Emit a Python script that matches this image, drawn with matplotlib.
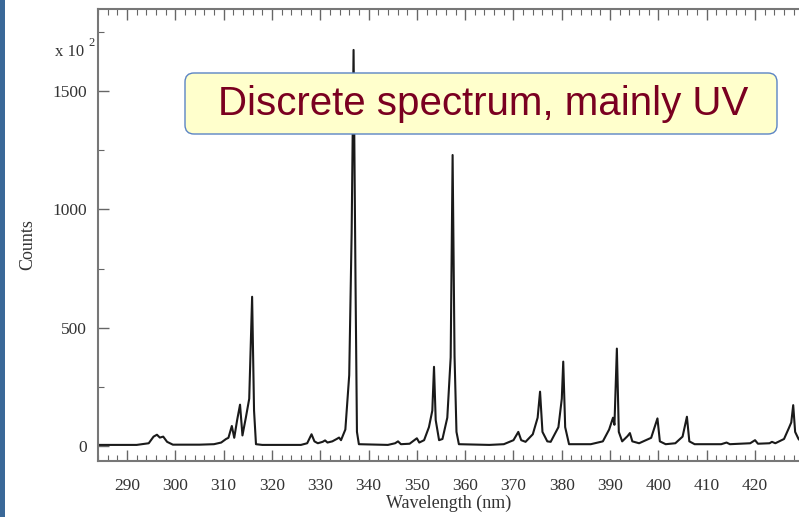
import matplotlib.pyplot as plt
from matplotlib.patches import FancyBboxPatch, Rectangle
from matplotlib.ticker import MultipleLocator

# spectrum trace: wavelength (nm) and counts
wavelength = [284.0, 292.0, 294.5, 295.5, 296.2, 296.8, 297.5, 298.3, 299.5, 305.0,
              308.0, 309.5, 310.5, 311.0, 311.7, 312.2, 312.8, 313.4, 313.9, 314.6,
              315.3, 315.9, 316.3, 316.7, 318.0, 326.0, 327.3, 328.2, 328.8, 329.5,
              330.5, 331.0, 331.5, 332.5, 333.4, 333.9, 334.3, 335.2, 336.0, 336.5,
              336.9, 337.3, 337.6, 338.0, 344.0, 345.5, 346.1, 346.7, 348.5, 350.0,
              350.5, 351.5, 352.5, 353.2, 353.55, 353.9, 354.6, 355.3, 356.3, 357.0,
              357.4, 357.8, 358.2, 358.7, 365.0, 368.0, 370.0, 371.0, 371.6, 372.5,
              374.0, 375.0, 375.5, 376.0, 377.0, 377.7, 379.3, 380.0, 380.3, 380.7,
              381.5, 386.0, 388.5, 389.8, 390.6, 390.9, 391.4, 391.8, 392.5, 393.6,
              394.1, 394.6, 396.0, 398.5, 399.8, 400.3, 401.5, 403.5, 405.0, 405.9,
              406.4, 407.5, 413.0, 414.1, 414.8, 419.0, 420.0, 420.6, 423.0, 423.5,
              424.2, 426.0, 427.0, 427.5, 427.9, 428.3, 429.0, 429.5]
counts = [5, 5, 12, 40, 48, 36, 40, 18, 6, 6,
          8, 15, 30, 35, 85, 35, 110, 175, 45, 120,
          200, 631, 150, 8, 5, 5, 12, 50, 20, 12,
          18, 24, 15, 20, 30, 36, 25, 70, 300, 900,
          1674, 700, 60, 8, 5, 12, 20, 8, 10, 33,
          15, 25, 80, 150, 335, 110, 25, 30, 120, 375,
          1230, 380, 60, 8, 5, 8, 25, 60, 25, 18,
          50, 120, 230, 60, 20, 18, 80, 200, 357, 80,
          8, 8, 20, 70, 120, 90, 412, 60, 20, 42,
          55, 20, 12, 35, 117, 20, 8, 12, 40, 124,
          20, 8, 8, 15, 8, 12, 25, 10, 12, 18,
          12, 30, 76, 100, 173, 60, 30, 20]

fig = plt.figure(figsize=(7.99, 5.17), dpi=100)
ax = fig.add_axes([98 / 799, 56 / 517, 701 / 799, 452 / 517])

ax.plot(wavelength, counts, color='#1a1a1a', lw=1.5)

ax.set_xlim(284.0, 429.1)
ax.set_ylim(-63, 1847)
ax.xaxis.set_major_locator(MultipleLocator(10))
ax.xaxis.set_minor_locator(MultipleLocator(2))
ax.yaxis.set_major_locator(MultipleLocator(500))
ax.yaxis.set_minor_locator(MultipleLocator(250))
ax.tick_params(which='both', direction='in', top=True, right=False,
               color='#666666', labelcolor='#333333')
ax.tick_params(which='major', length=8, width=1.0, labelsize=12.5, pad=8)
ax.tick_params(axis='x', which='major', pad=12)
ax.tick_params(which='minor', length=4, width=0.8)
for lab in ax.get_xticklabels() + ax.get_yticklabels():
    lab.set_family('Liberation Serif')
ax.spines['right'].set_visible(False)
for s in ['left', 'bottom', 'top']:
    ax.spines[s].set_color('#777777')
    ax.spines[s].set_linewidth(1.5)

ax.set_xlabel('Wavelength (nm)', family='Liberation Serif', fontsize=13,
              color='#333333', labelpad=1)
fig.text(28 / 799, 1 - 245 / 517, 'Counts', family='Liberation Serif', fontsize=13,
         color='#333333', rotation=90, ha='center', va='center')
fig.text(84 / 799, 1 - 52 / 517, 'x 10', family='Liberation Serif', fontsize=12,
         color='#333333', ha='right', va='center')
fig.text(92 / 799, 1 - 43 / 517, '2', family='Liberation Serif', fontsize=9,
         color='#333333', ha='center', va='center')

# blue strip on the left edge
fig.add_artist(Rectangle((0, 0), 5 / 799, 1, transform=fig.transFigure,
                         facecolor='#3a6898', edgecolor='none'))

# callout box
box = FancyBboxPatch((1.85, 3.83), 5.92, 0.61, boxstyle='round,pad=0,rounding_size=0.09',
                     transform=fig.dpi_scale_trans, facecolor='#FFFFCC',
                     edgecolor='#5b84c4', lw=1.0)
fig.add_artist(box)
fig.text(4.83 / 7.99, 4.135 / 5.17, 'Discrete spectrum, mainly UV',
         family='Liberation Sans', fontsize=29, color='#7a0020',
         ha='center', va='center')

fig.savefig('out.png', dpi=100)
